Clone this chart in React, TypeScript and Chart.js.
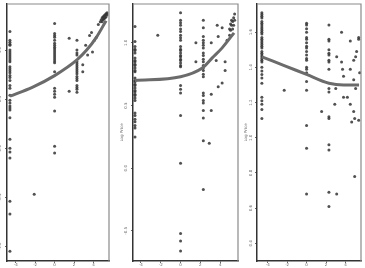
import React, { useEffect, useRef } from "react";
import { Chart, registerables } from "chart.js";
Chart.register(...registerables);

// shared
const columnX = [-4.6, 0, 2.3];
const xTicks = [-4, -2, 0, 2, 4];
const yTitle = "Log Price";

// panel 1
const p1ColA = [1.19, 1.10, 1.08, 1.06, 1.05, 1.00, 0.98, 0.96, 0.94, 0.92, 0.90, 0.88, 0.83, 0.81, 0.79, 0.77, 0.74, 0.72, 0.69, 0.64, 0.61, 0.54, 0.49, 0.46, 0.43, 0.41, 0.39, 0.31, 0.09, 0.0, -0.04, -0.10, -0.54, -0.67, -1.05];
const p1ColB = [1.27, 1.17, 1.15, 1.13, 1.10, 1.07, 1.05, 1.03, 1.01, 0.99, 0.97, 0.95, 0.93, 0.91, 0.89, 0.87, 0.78, 0.61, 0.58, 0.55, 0.52, 0.38, 0.02, -0.05];
const p1ColC = [1.10, 1.0, 0.97, 0.95, 0.88, 0.86, 0.84, 0.82, 0.80, 0.78, 0.76, 0.73, 0.71, 0.69, 0.64, 0.62, 0.60, 0.57];
const p1ExtraX = [-2.1, 1.5, 1.5, 2.9, 2.9, 3.2, 3.4, 3.6, 3.8, 3.9, 4.1, 4.3, 4.5, 4.7, 4.8, 4.9, 5.0, 5.1, 5.2, 5.3, 5.4, 5.0, 5.2, 4.9, 5.3, 5.4, 5.1];
const p1ExtraY = [-0.47, 1.12, 0.58, 0.85, 0.78, 1.05, 0.95, 1.15, 1.18, 0.98, 1.10, 1.13, 1.26, 1.29, 1.31, 1.33, 1.34, 1.35, 1.36, 1.37, 1.38, 1.31, 1.33, 1.29, 1.34, 1.36, 1.32];
const p1CurveX = [-4.6, -2.3, 0, 2.3, 3.3, 4.3, 5.3];
const p1CurveY = [0.53, 0.62, 0.74, 0.90, 1.0, 1.13, 1.30];
const p1YTicks = [1.0, 0.5, 0.0, -0.5, -1.0];

// panel 2
const p2ColA = [1.13, 1.01, 0.97, 0.95, 0.94, 0.92, 0.88, 0.86, 0.85, 0.83, 0.82, 0.80, 0.78, 0.77, 0.72, 0.70, 0.69, 0.67, 0.66, 0.64, 0.62, 0.61, 0.59, 0.58, 0.56, 0.54, 0.44, 0.42, 0.39, 0.37, 0.34, 0.32, 0.25];
const p2ColB = [1.24, 1.18, 1.16, 1.14, 1.11, 1.09, 1.06, 1.04, 1.02, 0.97, 0.95, 0.94, 0.92, 0.90, 0.89, 0.87, 0.86, 0.84, 0.82, 0.81, 0.66, 0.63, 0.60, 0.42, 0.04, -0.52, -0.58, -0.66];
const p2ColC = [1.18, 1.12, 1.05, 1.02, 1.0, 0.98, 0.96, 0.92, 0.90, 0.87, 0.85, 0.82, 0.80, 0.78, 0.75, 0.73, 0.60, 0.58, 0.54, 0.52, 0.46, 0.40, 0.22, -0.17];
const p2ExtraX = [-2.3, 2.9, 1.55, 1.55, 3.1, 3.7, 3.8, 4.2, 3.6, 3.8, 4.2, 3.1, 3.1, 4.5, 4.5, 4.7, 4.95, 5.05, 5.15, 5.26, 5.36, 5.46, 5.05, 5.26, 5.36, 5.15, 4.95, 5.46];
const p2ExtraY = [1.06, 0.2, 1.0, 0.85, 1.0, 1.14, 1.05, 1.12, 0.86, 0.65, 0.68, 0.59, 0.46, 0.85, 0.78, 1.02, 1.06, 1.10, 1.14, 1.17, 1.2, 1.23, 1.15, 1.11, 1.14, 1.18, 1.11, 1.18];
const p2CurveX = [-4.6, 0, 2.2, 3.2, 4.2, 5.4];
const p2CurveY = [0.70, 0.73, 0.80, 0.88, 0.96, 1.08];
const p2YTicks = [1.0, 0.5, 0.0, -0.5];

// panel 3
const p3ColA = [1.71, 1.70, 1.69, 1.68, 1.66, 1.65, 1.64, 1.63, 1.62, 1.61, 1.60, 1.59, 1.57, 1.56, 1.55, 1.54, 1.53, 1.52, 1.51, 1.49, 1.48, 1.47, 1.46, 1.45, 1.44, 1.43, 1.40, 1.38, 1.36, 1.34, 1.31, 1.23, 1.21, 1.19, 1.16, 1.11];
const p3ColB = [1.65, 1.64, 1.62, 1.60, 1.57, 1.56, 1.54, 1.52, 1.51, 1.49, 1.47, 1.45, 1.44, 1.40, 1.39, 1.37, 1.32, 1.27, 1.07, 0.94, 0.68];
const p3ColC = [1.64, 1.56, 1.55, 1.50, 1.48, 1.47, 1.44, 1.43, 1.39, 1.28, 1.26, 1.12, 1.11, 0.96, 0.93, 0.69, 0.61];
const p3ExtraX = [-2.3, 3.1, 1.55, 3.0, 2.9, 3.6, 3.1, 3.6, 3.7, 3.8, 3.8, 4.2, 4.5, 4.5, 4.5, 4.85, 4.85, 5.05, 5.05, 5.15, 5.36, 5.36, 5.46, 4.64, 4.95, 5.36, 4.95, 4.85];
const p3ExtraY = [1.27, 0.68, 1.15, 1.28, 1.19, 1.60, 1.46, 1.43, 1.39, 1.35, 1.23, 1.23, 1.55, 1.39, 1.19, 1.44, 1.33, 1.46, 1.28, 1.49, 1.57, 1.56, 1.37, 1.09, 1.11, 1.10, 0.78, 1.15];
const p3CurveX = [-4.6, -2.3, 0, 2.3, 3.8, 5.4];
const p3CurveY = [1.46, 1.41, 1.36, 1.31, 1.30, 1.30];
const p3YTicks = [1.6, 1.4, 1.2, 1.0, 0.8, 0.6, 0.4];

type PanelProps = {
  left: number;
  width: number;
  xMin: number;
  xMax: number;
  yMin: number;
  yMax: number;
  yTicks: number[];
  cols: number[][];
  extraX: number[];
  extraY: number[];
  curveX: number[];
  curveY: number[];
};

const boxPlugin = {
  id: "boxPlugin",
  afterDatasetsDraw(chart: any) {
    const { ctx, chartArea } = chart;
    ctx.save();
    ctx.strokeStyle = "#8a8a8a";
    ctx.lineWidth = 1.2;
    ctx.beginPath();
    ctx.moveTo(chartArea.left, chartArea.top);
    ctx.lineTo(chartArea.right, chartArea.top);
    ctx.lineTo(chartArea.right, chartArea.bottom);
    ctx.stroke();
    ctx.restore();
  },
};

function Panel(p: PanelProps) {
  const ref = useRef<HTMLCanvasElement>(null);
  useEffect(() => {
    if (!ref.current) return;
    const pts: { x: number; y: number }[] = [];
    p.cols.forEach((ys, i) => ys.forEach((y) => pts.push({ x: columnX[i], y })));
    p.extraX.forEach((x, i) => pts.push({ x, y: p.extraY[i] }));
    const curve = p.curveX.map((x, i) => ({ x, y: p.curveY[i] }));
    const font = { size: 4, family: "DejaVu Sans" };
    const chart = new Chart(ref.current, {
      type: "scatter",
      data: {
        datasets: [
          {
            data: curve,
            showLine: true,
            borderColor: "#6b6b6b",
            borderWidth: 3,
            pointRadius: 0,
            cubicInterpolationMode: "monotone",
            order: 0,
          } as any,
          {
            data: pts,
            pointRadius: 1.5,
            pointBackgroundColor: "rgba(50,50,50,0.85)",
            pointBorderWidth: 0,
            order: 1,
          },
        ],
      },
      plugins: [boxPlugin],
      options: {
        responsive: false,
        animation: false,
        events: [],
        layout: { padding: { top: 4, right: 3, left: 0, bottom: 0 } },
        plugins: { legend: { display: false }, tooltip: { enabled: false } },
        scales: {
          x: {
            type: "linear",
            min: p.xMin,
            max: p.xMax,
            afterBuildTicks: (s: any) => {
              s.ticks = xTicks.map((v) => ({ value: v }));
            },
            afterFit: (s: any) => {
              s.height = 7;
            },
            ticks: { font, color: "#666", padding: 0, callback: (v: any) => String(v) },
            grid: { drawOnChartArea: false, drawTicks: true, tickLength: 2, color: "#666" },
            border: { color: "#333", width: 1.5 },
          },
          y: {
            type: "linear",
            min: p.yMin,
            max: p.yMax,
            afterBuildTicks: (s: any) => {
              s.ticks = p.yTicks.map((v) => ({ value: v }));
            },
            afterFit: (s: any) => {
              s.width = 13;
            },
            title: { display: true, text: yTitle, font, color: "#666", padding: 0 },
            ticks: {
              font,
              color: "#666",
              padding: 1,
              minRotation: 90,
              maxRotation: 90,
              crossAlign: "center",
              callback: (v: any) => Number(v).toFixed(1),
            },
            grid: { drawOnChartArea: false, drawTicks: true, tickLength: 2, color: "#666" },
            border: { color: "#333", width: 1.5 },
          },
        },
      } as any,
    });
    return () => chart.destroy();
  }, []);
  return (
    <canvas
      ref={ref}
      width={p.width}
      height={268}
      style={{ position: "absolute", left: p.left, top: 0, width: p.width, height: 268 }}
    />
  );
}

export default function App() {
  return (
    <div style={{ position: "fixed", left: 0, top: 0, width: 365, height: 268, background: "#fff", overflow: "hidden" }}>
      <Panel left={-6} width={119} xMin={-4.9} xMax={5.6} yMin={-1.15} yMax={1.47} yTicks={p1YTicks}
        cols={[p1ColA, p1ColB, p1ColC]} extraX={p1ExtraX} extraY={p1ExtraY} curveX={p1CurveX} curveY={p1CurveY} />
      <Panel left={120} width={122} xMin={-4.8} xMax={5.8} yMin={-0.74} yMax={1.31} yTicks={p2YTicks}
        cols={[p2ColA, p2ColB, p2ColC]} extraX={p2ExtraX} extraY={p2ExtraY} curveX={p2CurveX} curveY={p2CurveY} />
      <Panel left={244} width={121} xMin={-5.1} xMax={5.6} yMin={0.3} yMax={1.76} yTicks={p3YTicks}
        cols={[p3ColA, p3ColB, p3ColC]} extraX={p3ExtraX} extraY={p3ExtraY} curveX={p3CurveX} curveY={p3CurveY} />
    </div>
  );
}
